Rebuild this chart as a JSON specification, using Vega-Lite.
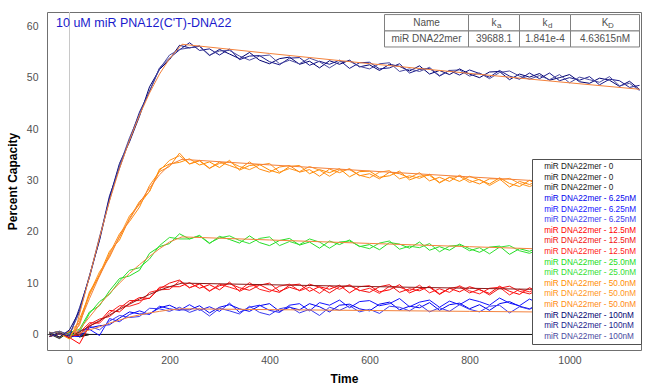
{
"$schema": "https://vega.github.io/schema/vega-lite/v6.json",
"width": 594, "height": 338,
"autosize": "none",
"padding": {"left": 47, "top": 12, "right": 10, "bottom": 41},
"background": "white",
"title": {"text": "10 uM miR PNA12(C'T)-DNA22", "anchor": "start", "frame": "group", "offset": -18, "dx": 9, "fontSize": 12.5, "fontWeight": "normal", "color": "#1a1acc", "font": "Liberation Sans"},
"config": {"view": {"stroke": "#707070", "strokeWidth": 1}, "font": "Liberation Sans",
  "axisX": {"labelFontSize": 10.5, "labelColor": "#505050", "labelFont": "Liberation Sans", "ticks": false, "domain": false, "grid": false, "labelPadding": 5, "titleFont": "Liberation Sans", "titleFontSize": 12, "titleFontWeight": "bold", "titleColor": "#000000", "titlePadding": 8},
  "axisY": {"labelFontSize": 10.5, "labelColor": "#505050", "labelFont": "Liberation Sans", "ticks": false, "domain": false, "grid": false, "labelPadding": 9, "titleFont": "Liberation Sans", "titleFontSize": 12, "titleFontWeight": "bold", "titleColor": "#000000", "titlePadding": 7}
},
"datasets": {
"tr": [
{"k":"A","t":-40,"v":0.5},{"k":"A","t":-20,"v":-0.6},{"k":"A","t":0,"v":0.4},{"k":"A","t":20,"v":-0.3},{"k":"A","t":40,"v":0},{"k":"A","t":940,"v":0},
{"k":"B","t":-40,"v":-0.3},{"k":"B","t":-20,"v":0.4},{"k":"B","t":0,"v":-0.7},{"k":"B","t":20,"v":0.3},{"k":"B","t":40,"v":0},{"k":"B","t":940,"v":0},
{"k":"C","t":-40,"v":0.1},{"k":"C","t":-20,"v":-0.8},{"k":"C","t":0,"v":0.6},{"k":"C","t":20,"v":-0.5},{"k":"C","t":40,"v":0},{"k":"C","t":940,"v":0},
{"k":"D","t":-40,"v":0.2},{"k":"D","t":-20,"v":0.6},{"k":"D","t":0,"v":-0.3},{"k":"D","t":20,"v":-0.4},{"k":"D","t":40,"v":1.3},{"k":"D","t":60,"v":1.7},{"k":"D","t":80,"v":1.9},{"k":"D","t":100,"v":3.2},{"k":"D","t":120,"v":4.4},{"k":"D","t":140,"v":4.0},{"k":"D","t":160,"v":4.0},{"k":"D","t":180,"v":5.2},{"k":"D","t":200,"v":5.7},{"k":"D","t":220,"v":4.8},{"k":"D","t":240,"v":4.8},{"k":"D","t":260,"v":5.6},{"k":"D","t":280,"v":4.2},{"k":"D","t":300,"v":5.3},{"k":"D","t":320,"v":5.8},{"k":"D","t":340,"v":5.0},{"k":"D","t":360,"v":4.5},{"k":"D","t":380,"v":5.6},{"k":"D","t":400,"v":6.0},{"k":"D","t":420,"v":4.5},{"k":"D","t":440,"v":5.3},{"k":"D","t":460,"v":4.8},{"k":"D","t":480,"v":6.0},{"k":"D","t":500,"v":5.4},{"k":"D","t":520,"v":4.4},{"k":"D","t":540,"v":5.7},{"k":"D","t":560,"v":5.9},{"k":"D","t":580,"v":5.0},{"k":"D","t":600,"v":4.6},{"k":"D","t":620,"v":5.9},{"k":"D","t":640,"v":6.3},{"k":"D","t":660,"v":4.8},{"k":"D","t":680,"v":5.5},{"k":"D","t":700,"v":5.2},{"k":"D","t":720,"v":6.2},{"k":"D","t":740,"v":4.7},{"k":"D","t":760,"v":5.8},{"k":"D","t":780,"v":6.1},{"k":"D","t":800,"v":5.0},{"k":"D","t":820,"v":5.8},{"k":"D","t":840,"v":4.7},{"k":"D","t":860,"v":6.0},{"k":"D","t":880,"v":6.4},{"k":"D","t":900,"v":5.5},{"k":"D","t":920,"v":5.0},{"k":"D","t":940,"v":5.9},
{"k":"E","t":-40,"v":-0.4},{"k":"E","t":-20,"v":0.2},{"k":"E","t":0,"v":-0.6},{"k":"E","t":20,"v":0.8},{"k":"E","t":40,"v":1.0},{"k":"E","t":60,"v":-0.2},{"k":"E","t":80,"v":3.1},{"k":"E","t":100,"v":2.5},{"k":"E","t":120,"v":3.9},{"k":"E","t":140,"v":4.6},{"k":"E","t":160,"v":3.9},{"k":"E","t":180,"v":5.5},{"k":"E","t":200,"v":5.0},{"k":"E","t":220,"v":4.7},{"k":"E","t":240,"v":5.8},{"k":"E","t":260,"v":4.7},{"k":"E","t":280,"v":5.4},{"k":"E","t":300,"v":4.5},{"k":"E","t":320,"v":6.1},{"k":"E","t":340,"v":4.3},{"k":"E","t":360,"v":5.3},{"k":"E","t":380,"v":5.7},{"k":"E","t":400,"v":4.7},{"k":"E","t":420,"v":4.3},{"k":"E","t":440,"v":5.7},{"k":"E","t":460,"v":6.0},{"k":"E","t":480,"v":4.6},{"k":"E","t":500,"v":6.2},{"k":"E","t":520,"v":5.7},{"k":"E","t":540,"v":6.7},{"k":"E","t":560,"v":5.2},{"k":"E","t":580,"v":6.4},{"k":"E","t":600,"v":6.6},{"k":"E","t":620,"v":5.6},{"k":"E","t":640,"v":6.0},{"k":"E","t":660,"v":7.0},{"k":"E","t":680,"v":5.4},{"k":"E","t":700,"v":6.3},{"k":"E","t":720,"v":6.7},{"k":"E","t":740,"v":5.3},{"k":"E","t":760,"v":6.5},{"k":"E","t":780,"v":5.8},{"k":"E","t":800,"v":6.9},{"k":"E","t":820,"v":6.4},{"k":"E","t":840,"v":5.7},{"k":"E","t":860,"v":7.1},{"k":"E","t":880,"v":6.1},{"k":"E","t":900,"v":5.6},{"k":"E","t":920,"v":6.9},{"k":"E","t":940,"v":6.0},
{"k":"F","t":-40,"v":0.3},{"k":"F","t":-20,"v":-0.5},{"k":"F","t":0,"v":0.6},{"k":"F","t":20,"v":0.1},{"k":"F","t":40,"v":1.6},{"k":"F","t":60,"v":0.9},{"k":"F","t":80,"v":2.6},{"k":"F","t":100,"v":3.7},{"k":"F","t":120,"v":3.3},{"k":"F","t":140,"v":3.5},{"k":"F","t":160,"v":5.1},{"k":"F","t":180,"v":5.0},{"k":"F","t":200,"v":4.5},{"k":"F","t":220,"v":5.3},{"k":"F","t":240,"v":4.3},{"k":"F","t":260,"v":5.0},{"k":"F","t":280,"v":3.6},{"k":"F","t":300,"v":5.1},{"k":"F","t":320,"v":4.6},{"k":"F","t":340,"v":4.0},{"k":"F","t":360,"v":5.5},{"k":"F","t":380,"v":4.3},{"k":"F","t":400,"v":3.8},{"k":"F","t":420,"v":5.0},{"k":"F","t":440,"v":5.4},{"k":"F","t":460,"v":4.2},{"k":"F","t":480,"v":4.9},{"k":"F","t":500,"v":3.7},{"k":"F","t":520,"v":5.3},{"k":"F","t":540,"v":4.7},{"k":"F","t":560,"v":5.6},{"k":"F","t":580,"v":4.4},{"k":"F","t":600,"v":4.9},{"k":"F","t":620,"v":4.1},{"k":"F","t":640,"v":5.5},{"k":"F","t":660,"v":5.3},{"k":"F","t":680,"v":4.6},{"k":"F","t":700,"v":5.8},{"k":"F","t":720,"v":4.4},{"k":"F","t":740,"v":5.2},{"k":"F","t":760,"v":4.5},{"k":"F","t":780,"v":5.8},{"k":"F","t":800,"v":4.9},{"k":"F","t":820,"v":4.4},{"k":"F","t":840,"v":5.5},{"k":"F","t":860,"v":5.7},{"k":"F","t":880,"v":4.2},{"k":"F","t":900,"v":5.4},{"k":"F","t":920,"v":4.9},{"k":"F","t":940,"v":5.8},
{"k":"G","t":-40,"v":-0.4},{"k":"G","t":-20,"v":0.2},{"k":"G","t":0,"v":-0.6},{"k":"G","t":20,"v":-1.8},{"k":"G","t":40,"v":1.7},{"k":"G","t":60,"v":2.5},{"k":"G","t":80,"v":4.7},{"k":"G","t":100,"v":4.4},{"k":"G","t":120,"v":6.1},{"k":"G","t":140,"v":7.2},{"k":"G","t":160,"v":7.0},{"k":"G","t":180,"v":9.2},{"k":"G","t":200,"v":9.3},{"k":"G","t":220,"v":9.3},{"k":"G","t":240,"v":10.1},{"k":"G","t":260,"v":9.0},{"k":"G","t":280,"v":9.7},{"k":"G","t":300,"v":8.7},{"k":"G","t":320,"v":10.2},{"k":"G","t":340,"v":8.4},{"k":"G","t":360,"v":9.4},{"k":"G","t":380,"v":9.7},{"k":"G","t":400,"v":8.7},{"k":"G","t":420,"v":8.2},{"k":"G","t":440,"v":9.6},{"k":"G","t":460,"v":9.8},{"k":"G","t":480,"v":8.4},{"k":"G","t":500,"v":9.3},{"k":"G","t":520,"v":8.8},{"k":"G","t":540,"v":9.6},{"k":"G","t":560,"v":8.1},{"k":"G","t":580,"v":9.3},{"k":"G","t":600,"v":9.5},{"k":"G","t":620,"v":8.3},{"k":"G","t":640,"v":8.7},{"k":"G","t":660,"v":9.7},{"k":"G","t":680,"v":8.1},{"k":"G","t":700,"v":8.9},{"k":"G","t":720,"v":9.2},{"k":"G","t":740,"v":7.8},{"k":"G","t":760,"v":9.0},{"k":"G","t":780,"v":8.3},{"k":"G","t":800,"v":9.3},{"k":"G","t":820,"v":8.7},{"k":"G","t":840,"v":8.0},{"k":"G","t":860,"v":9.4},{"k":"G","t":880,"v":8.4},{"k":"G","t":900,"v":7.8},{"k":"G","t":920,"v":9.1},{"k":"G","t":940,"v":8.2},
{"k":"H","t":-40,"v":0.2},{"k":"H","t":-20,"v":0.6},{"k":"H","t":0,"v":-0.3},{"k":"H","t":20,"v":-0.1},{"k":"H","t":40,"v":2.0},{"k":"H","t":60,"v":3.0},{"k":"H","t":80,"v":3.5},{"k":"H","t":100,"v":5.1},{"k":"H","t":120,"v":6.6},{"k":"H","t":140,"v":6.6},{"k":"H","t":160,"v":7.1},{"k":"H","t":180,"v":8.9},{"k":"H","t":200,"v":10.0},{"k":"H","t":220,"v":10.6},{"k":"H","t":240,"v":9.1},{"k":"H","t":260,"v":9.9},{"k":"H","t":280,"v":8.5},{"k":"H","t":300,"v":9.5},{"k":"H","t":320,"v":9.9},{"k":"H","t":340,"v":9.1},{"k":"H","t":360,"v":8.6},{"k":"H","t":380,"v":9.6},{"k":"H","t":400,"v":10.0},{"k":"H","t":420,"v":8.4},{"k":"H","t":440,"v":9.2},{"k":"H","t":460,"v":8.6},{"k":"H","t":480,"v":9.8},{"k":"H","t":500,"v":9.2},{"k":"H","t":520,"v":8.1},{"k":"H","t":540,"v":9.3},{"k":"H","t":560,"v":9.5},{"k":"H","t":580,"v":8.6},{"k":"H","t":600,"v":8.2},{"k":"H","t":620,"v":9.3},{"k":"H","t":640,"v":9.7},{"k":"H","t":660,"v":8.2},{"k":"H","t":680,"v":8.9},{"k":"H","t":700,"v":8.5},{"k":"H","t":720,"v":9.4},{"k":"H","t":740,"v":7.9},{"k":"H","t":760,"v":9.0},{"k":"H","t":780,"v":9.3},{"k":"H","t":800,"v":8.1},{"k":"H","t":820,"v":8.8},{"k":"H","t":840,"v":7.7},{"k":"H","t":860,"v":9.0},{"k":"H","t":880,"v":9.4},{"k":"H","t":900,"v":8.4},{"k":"H","t":920,"v":7.9},{"k":"H","t":940,"v":8.8},
{"k":"I","t":-40,"v":0.3},{"k":"I","t":-20,"v":-0.5},{"k":"I","t":0,"v":0.6},{"k":"I","t":20,"v":0.4},{"k":"I","t":40,"v":2.3},{"k":"I","t":60,"v":2.2},{"k":"I","t":80,"v":4.2},{"k":"I","t":100,"v":5.6},{"k":"I","t":120,"v":5.5},{"k":"I","t":140,"v":6.1},{"k":"I","t":160,"v":8.2},{"k":"I","t":180,"v":8.7},{"k":"I","t":200,"v":8.8},{"k":"I","t":220,"v":10.4},{"k":"I","t":240,"v":9.1},{"k":"I","t":260,"v":9.8},{"k":"I","t":280,"v":8.4},{"k":"I","t":300,"v":9.8},{"k":"I","t":320,"v":9.2},{"k":"I","t":340,"v":8.6},{"k":"I","t":360,"v":10.1},{"k":"I","t":380,"v":8.8},{"k":"I","t":400,"v":8.3},{"k":"I","t":420,"v":9.4},{"k":"I","t":440,"v":9.8},{"k":"I","t":460,"v":8.5},{"k":"I","t":480,"v":9.2},{"k":"I","t":500,"v":8.0},{"k":"I","t":520,"v":9.5},{"k":"I","t":540,"v":8.8},{"k":"I","t":560,"v":9.7},{"k":"I","t":580,"v":8.5},{"k":"I","t":600,"v":9.0},{"k":"I","t":620,"v":8.0},{"k":"I","t":640,"v":9.4},{"k":"I","t":660,"v":9.2},{"k":"I","t":680,"v":8.5},{"k":"I","t":700,"v":9.6},{"k":"I","t":720,"v":8.1},{"k":"I","t":740,"v":8.9},{"k":"I","t":760,"v":8.2},{"k":"I","t":780,"v":9.5},{"k":"I","t":800,"v":8.5},{"k":"I","t":820,"v":7.9},{"k":"I","t":840,"v":9.0},{"k":"I","t":860,"v":9.2},{"k":"I","t":880,"v":7.7},{"k":"I","t":900,"v":8.8},{"k":"I","t":920,"v":8.3},{"k":"I","t":940,"v":9.2},
{"k":"J","t":-40,"v":0.3},{"k":"J","t":-20,"v":-0.5},{"k":"J","t":0,"v":0.4},{"k":"J","t":20,"v":1.0},{"k":"J","t":40,"v":4.4},{"k":"J","t":60,"v":5.6},{"k":"J","t":80,"v":8.5},{"k":"J","t":100,"v":10.9},{"k":"J","t":120,"v":11.4},{"k":"J","t":140,"v":12.5},{"k":"J","t":160,"v":15.8},{"k":"J","t":180,"v":17.1},{"k":"J","t":200,"v":17.7},{"k":"J","t":220,"v":19.6},{"k":"J","t":240,"v":18.6},{"k":"J","t":260,"v":19.2},{"k":"J","t":280,"v":17.7},{"k":"J","t":300,"v":19.1},{"k":"J","t":320,"v":18.5},{"k":"J","t":340,"v":17.8},{"k":"J","t":360,"v":19.2},{"k":"J","t":380,"v":17.9},{"k":"J","t":400,"v":17.3},{"k":"J","t":420,"v":18.3},{"k":"J","t":440,"v":18.7},{"k":"J","t":460,"v":17.4},{"k":"J","t":480,"v":18.0},{"k":"J","t":500,"v":16.8},{"k":"J","t":520,"v":18.2},{"k":"J","t":540,"v":17.5},{"k":"J","t":560,"v":18.4},{"k":"J","t":580,"v":17.1},{"k":"J","t":600,"v":17.5},{"k":"J","t":620,"v":16.5},{"k":"J","t":640,"v":17.9},{"k":"J","t":660,"v":17.6},{"k":"J","t":680,"v":16.8},{"k":"J","t":700,"v":18.0},{"k":"J","t":720,"v":16.4},{"k":"J","t":740,"v":17.1},{"k":"J","t":760,"v":16.4},{"k":"J","t":780,"v":17.6},{"k":"J","t":800,"v":16.7},{"k":"J","t":820,"v":16.0},{"k":"J","t":840,"v":17.0},{"k":"J","t":860,"v":17.2},{"k":"J","t":880,"v":15.6},{"k":"J","t":900,"v":16.7},{"k":"J","t":920,"v":16.2},{"k":"J","t":940,"v":17.0},
{"k":"K","t":-40,"v":0.2},{"k":"K","t":-20,"v":0.6},{"k":"K","t":0,"v":-0.3},{"k":"K","t":20,"v":0.5},{"k":"K","t":40,"v":4.1},{"k":"K","t":60,"v":6.4},{"k":"K","t":80,"v":7.8},{"k":"K","t":100,"v":10.4},{"k":"K","t":120,"v":12.5},{"k":"K","t":140,"v":13.0},{"k":"K","t":160,"v":14.7},{"k":"K","t":180,"v":17.3},{"k":"K","t":200,"v":18.9},{"k":"K","t":220,"v":18.6},{"k":"K","t":240,"v":18.6},{"k":"K","t":260,"v":19.3},{"k":"K","t":280,"v":17.8},{"k":"K","t":300,"v":18.8},{"k":"K","t":320,"v":19.2},{"k":"K","t":340,"v":18.3},{"k":"K","t":360,"v":17.7},{"k":"K","t":380,"v":18.7},{"k":"K","t":400,"v":19.0},{"k":"K","t":420,"v":17.3},{"k":"K","t":440,"v":18.1},{"k":"K","t":460,"v":17.5},{"k":"K","t":480,"v":18.6},{"k":"K","t":500,"v":18.0},{"k":"K","t":520,"v":16.8},{"k":"K","t":540,"v":18.0},{"k":"K","t":560,"v":18.2},{"k":"K","t":580,"v":17.2},{"k":"K","t":600,"v":16.7},{"k":"K","t":620,"v":17.8},{"k":"K","t":640,"v":18.2},{"k":"K","t":660,"v":16.6},{"k":"K","t":680,"v":17.2},{"k":"K","t":700,"v":16.9},{"k":"K","t":720,"v":17.7},{"k":"K","t":740,"v":16.1},{"k":"K","t":760,"v":17.2},{"k":"K","t":780,"v":17.4},{"k":"K","t":800,"v":16.3},{"k":"K","t":820,"v":16.9},{"k":"K","t":840,"v":15.7},{"k":"K","t":860,"v":17.0},{"k":"K","t":880,"v":17.3},{"k":"K","t":900,"v":16.3},{"k":"K","t":920,"v":15.8},{"k":"K","t":940,"v":16.6},
{"k":"L","t":-40,"v":-0.4},{"k":"L","t":-20,"v":0.2},{"k":"L","t":0,"v":-0.9},{"k":"L","t":20,"v":3.0},{"k":"L","t":40,"v":7.7},{"k":"L","t":60,"v":11.7},{"k":"L","t":80,"v":16.2},{"k":"L","t":100,"v":18.4},{"k":"L","t":120,"v":22.6},{"k":"L","t":140,"v":25.9},{"k":"L","t":160,"v":27.8},{"k":"L","t":180,"v":32.2},{"k":"L","t":200,"v":33.2},{"k":"L","t":220,"v":33.5},{"k":"L","t":240,"v":34.2},{"k":"L","t":260,"v":33.0},{"k":"L","t":280,"v":33.6},{"k":"L","t":300,"v":32.5},{"k":"L","t":320,"v":33.9},{"k":"L","t":340,"v":32.0},{"k":"L","t":360,"v":32.9},{"k":"L","t":380,"v":33.1},{"k":"L","t":400,"v":32.0},{"k":"L","t":420,"v":31.4},{"k":"L","t":440,"v":32.7},{"k":"L","t":460,"v":32.9},{"k":"L","t":480,"v":31.3},{"k":"L","t":500,"v":32.1},{"k":"L","t":520,"v":31.5},{"k":"L","t":540,"v":32.3},{"k":"L","t":560,"v":30.7},{"k":"L","t":580,"v":31.7},{"k":"L","t":600,"v":31.8},{"k":"L","t":620,"v":30.6},{"k":"L","t":640,"v":30.9},{"k":"L","t":660,"v":31.8},{"k":"L","t":680,"v":30.1},{"k":"L","t":700,"v":30.8},{"k":"L","t":720,"v":31.0},{"k":"L","t":740,"v":29.5},{"k":"L","t":760,"v":30.6},{"k":"L","t":780,"v":29.8},{"k":"L","t":800,"v":30.8},{"k":"L","t":820,"v":30.1},{"k":"L","t":840,"v":29.3},{"k":"L","t":860,"v":30.5},{"k":"L","t":880,"v":29.4},{"k":"L","t":900,"v":28.8},{"k":"L","t":920,"v":30.0},{"k":"L","t":940,"v":29.0},
{"k":"M","t":-40,"v":0.2},{"k":"M","t":-20,"v":0.6},{"k":"M","t":0,"v":-0.3},{"k":"M","t":20,"v":1.8},{"k":"M","t":40,"v":8.0},{"k":"M","t":60,"v":12.2},{"k":"M","t":80,"v":15.0},{"k":"M","t":100,"v":19.1},{"k":"M","t":120,"v":23.1},{"k":"M","t":140,"v":25.3},{"k":"M","t":160,"v":27.9},{"k":"M","t":180,"v":31.9},{"k":"M","t":200,"v":33.9},{"k":"M","t":220,"v":34.8},{"k":"M","t":240,"v":33.2},{"k":"M","t":260,"v":33.9},{"k":"M","t":280,"v":32.4},{"k":"M","t":300,"v":33.3},{"k":"M","t":320,"v":33.6},{"k":"M","t":340,"v":32.7},{"k":"M","t":360,"v":32.1},{"k":"M","t":380,"v":33.0},{"k":"M","t":400,"v":33.3},{"k":"M","t":420,"v":31.6},{"k":"M","t":440,"v":32.3},{"k":"M","t":460,"v":31.7},{"k":"M","t":480,"v":32.7},{"k":"M","t":500,"v":32.0},{"k":"M","t":520,"v":30.8},{"k":"M","t":540,"v":32.0},{"k":"M","t":560,"v":32.1},{"k":"M","t":580,"v":31.0},{"k":"M","t":600,"v":30.5},{"k":"M","t":620,"v":31.6},{"k":"M","t":640,"v":31.9},{"k":"M","t":660,"v":30.3},{"k":"M","t":680,"v":30.9},{"k":"M","t":700,"v":30.4},{"k":"M","t":720,"v":31.2},{"k":"M","t":740,"v":29.6},{"k":"M","t":760,"v":30.6},{"k":"M","t":780,"v":30.8},{"k":"M","t":800,"v":29.6},{"k":"M","t":820,"v":30.2},{"k":"M","t":840,"v":29.0},{"k":"M","t":860,"v":30.1},{"k":"M","t":880,"v":30.4},{"k":"M","t":900,"v":29.4},{"k":"M","t":920,"v":28.8},{"k":"M","t":940,"v":29.6},
{"k":"N","t":-40,"v":0.3},{"k":"N","t":-20,"v":-0.5},{"k":"N","t":0,"v":0.6},{"k":"N","t":20,"v":2.3},{"k":"N","t":40,"v":8.3},{"k":"N","t":60,"v":11.4},{"k":"N","t":80,"v":15.7},{"k":"N","t":100,"v":19.6},{"k":"N","t":120,"v":22.0},{"k":"N","t":140,"v":24.8},{"k":"N","t":160,"v":29.0},{"k":"N","t":180,"v":31.7},{"k":"N","t":200,"v":32.7},{"k":"N","t":220,"v":35.3},{"k":"N","t":240,"v":33.2},{"k":"N","t":260,"v":33.8},{"k":"N","t":280,"v":32.3},{"k":"N","t":300,"v":33.6},{"k":"N","t":320,"v":32.9},{"k":"N","t":340,"v":32.2},{"k":"N","t":360,"v":33.6},{"k":"N","t":380,"v":32.2},{"k":"N","t":400,"v":31.6},{"k":"N","t":420,"v":32.6},{"k":"N","t":440,"v":32.9},{"k":"N","t":460,"v":31.6},{"k":"N","t":480,"v":32.1},{"k":"N","t":500,"v":30.8},{"k":"N","t":520,"v":32.2},{"k":"N","t":540,"v":31.5},{"k":"N","t":560,"v":32.3},{"k":"N","t":580,"v":30.9},{"k":"N","t":600,"v":31.3},{"k":"N","t":620,"v":30.3},{"k":"N","t":640,"v":31.6},{"k":"N","t":660,"v":31.3},{"k":"N","t":680,"v":30.5},{"k":"N","t":700,"v":31.5},{"k":"N","t":720,"v":29.9},{"k":"N","t":740,"v":30.6},{"k":"N","t":760,"v":29.8},{"k":"N","t":780,"v":31.0},{"k":"N","t":800,"v":30.0},{"k":"N","t":820,"v":29.3},{"k":"N","t":840,"v":30.3},{"k":"N","t":860,"v":30.3},{"k":"N","t":880,"v":28.7},{"k":"N","t":900,"v":29.8},{"k":"N","t":920,"v":29.2},{"k":"N","t":940,"v":30.0},
{"k":"O","t":-40,"v":0.3},{"k":"O","t":-20,"v":-0.5},{"k":"O","t":0,"v":0.9},{"k":"O","t":20,"v":4.6},{"k":"O","t":40,"v":11.5},{"k":"O","t":60,"v":18.3},{"k":"O","t":80,"v":26.6},{"k":"O","t":100,"v":33.3},{"k":"O","t":120,"v":37.5},{"k":"O","t":140,"v":42.5},{"k":"O","t":160,"v":48.2},{"k":"O","t":180,"v":51.6},{"k":"O","t":200,"v":53.5},{"k":"O","t":220,"v":56.3},{"k":"O","t":240,"v":55.8},{"k":"O","t":260,"v":56.1},{"k":"O","t":280,"v":54.3},{"k":"O","t":300,"v":55.5},{"k":"O","t":320,"v":54.6},{"k":"O","t":340,"v":53.7},{"k":"O","t":360,"v":54.9},{"k":"O","t":380,"v":53.4},{"k":"O","t":400,"v":52.7},{"k":"O","t":420,"v":53.7},{"k":"O","t":440,"v":54.0},{"k":"O","t":460,"v":52.6},{"k":"O","t":480,"v":53.2},{"k":"O","t":500,"v":51.9},{"k":"O","t":520,"v":53.3},{"k":"O","t":540,"v":52.6},{"k":"O","t":560,"v":53.4},{"k":"O","t":580,"v":52.1},{"k":"O","t":600,"v":52.5},{"k":"O","t":620,"v":51.4},{"k":"O","t":640,"v":52.6},{"k":"O","t":660,"v":52.2},{"k":"O","t":680,"v":51.3},{"k":"O","t":700,"v":52.3},{"k":"O","t":720,"v":50.7},{"k":"O","t":740,"v":51.4},{"k":"O","t":760,"v":50.6},{"k":"O","t":780,"v":51.7},{"k":"O","t":800,"v":50.7},{"k":"O","t":820,"v":50.0},{"k":"O","t":840,"v":51.1},{"k":"O","t":860,"v":51.2},{"k":"O","t":880,"v":49.6},{"k":"O","t":900,"v":50.7},{"k":"O","t":920,"v":50.1},{"k":"O","t":940,"v":50.8},{"k":"O","t":960,"v":49.5},{"k":"O","t":980,"v":50.0},{"k":"O","t":1000,"v":50.6},{"k":"O","t":1020,"v":49.2},{"k":"O","t":1040,"v":48.9},{"k":"O","t":1060,"v":49.9},{"k":"O","t":1080,"v":49.5},{"k":"O","t":1100,"v":48.3},{"k":"O","t":1120,"v":49.3},{"k":"O","t":1140,"v":47.7},
{"k":"P","t":-40,"v":-0.4},{"k":"P","t":-20,"v":0.2},{"k":"P","t":0,"v":-0.3},{"k":"P","t":20,"v":5.2},{"k":"P","t":40,"v":11.1},{"k":"P","t":60,"v":18.6},{"k":"P","t":80,"v":27.0},{"k":"P","t":100,"v":32.4},{"k":"P","t":120,"v":37.9},{"k":"P","t":140,"v":43.3},{"k":"P","t":160,"v":47.3},{"k":"P","t":180,"v":51.9},{"k":"P","t":200,"v":53.8},{"k":"P","t":220,"v":55.4},{"k":"P","t":240,"v":56.8},{"k":"P","t":260,"v":55.3},{"k":"P","t":280,"v":55.6},{"k":"P","t":300,"v":54.4},{"k":"P","t":320,"v":55.6},{"k":"P","t":340,"v":53.5},{"k":"P","t":360,"v":54.2},{"k":"P","t":380,"v":54.3},{"k":"P","t":400,"v":53.1},{"k":"P","t":420,"v":52.5},{"k":"P","t":440,"v":53.8},{"k":"P","t":460,"v":53.9},{"k":"P","t":480,"v":52.4},{"k":"P","t":500,"v":53.2},{"k":"P","t":520,"v":52.6},{"k":"P","t":540,"v":53.4},{"k":"P","t":560,"v":51.8},{"k":"P","t":580,"v":52.9},{"k":"P","t":600,"v":53.0},{"k":"P","t":620,"v":51.7},{"k":"P","t":640,"v":51.9},{"k":"P","t":660,"v":52.7},{"k":"P","t":680,"v":50.9},{"k":"P","t":700,"v":51.6},{"k":"P","t":720,"v":51.8},{"k":"P","t":740,"v":50.3},{"k":"P","t":760,"v":51.4},{"k":"P","t":780,"v":50.5},{"k":"P","t":800,"v":51.5},{"k":"P","t":820,"v":50.8},{"k":"P","t":840,"v":50.1},{"k":"P","t":860,"v":51.4},{"k":"P","t":880,"v":50.3},{"k":"P","t":900,"v":49.7},{"k":"P","t":920,"v":50.9},{"k":"P","t":940,"v":49.8},{"k":"P","t":960,"v":50.9},{"k":"P","t":980,"v":49.4},{"k":"P","t":1000,"v":50.0},{"k":"P","t":1020,"v":49.5},{"k":"P","t":1040,"v":50.2},{"k":"P","t":1060,"v":48.6},{"k":"P","t":1080,"v":49.7},{"k":"P","t":1100,"v":49.4},{"k":"P","t":1120,"v":48.1},{"k":"P","t":1140,"v":48.5},
{"k":"Q","t":-40,"v":0.2},{"k":"Q","t":-20,"v":0.6},{"k":"Q","t":0,"v":0.0},{"k":"Q","t":20,"v":4.3},{"k":"Q","t":40,"v":11.3},{"k":"Q","t":60,"v":19.0},{"k":"Q","t":80,"v":26.1},{"k":"Q","t":100,"v":32.9},{"k":"Q","t":120,"v":38.3},{"k":"Q","t":140,"v":42.8},{"k":"Q","t":160,"v":47.4},{"k":"Q","t":180,"v":51.7},{"k":"Q","t":200,"v":54.4},{"k":"Q","t":220,"v":55.5},{"k":"Q","t":240,"v":55.8},{"k":"Q","t":260,"v":56.2},{"k":"Q","t":280,"v":54.4},{"k":"Q","t":300,"v":55.2},{"k":"Q","t":320,"v":55.3},{"k":"Q","t":340,"v":54.2},{"k":"Q","t":360,"v":53.4},{"k":"Q","t":380,"v":54.2},{"k":"Q","t":400,"v":54.4},{"k":"Q","t":420,"v":52.7},{"k":"Q","t":440,"v":53.4},{"k":"Q","t":460,"v":52.7},{"k":"Q","t":480,"v":53.8},{"k":"Q","t":500,"v":53.1},{"k":"Q","t":520,"v":51.9},{"k":"Q","t":540,"v":53.1},{"k":"Q","t":560,"v":53.2},{"k":"Q","t":580,"v":52.2},{"k":"Q","t":600,"v":51.7},{"k":"Q","t":620,"v":52.7},{"k":"Q","t":640,"v":52.9},{"k":"Q","t":660,"v":51.2},{"k":"Q","t":680,"v":51.7},{"k":"Q","t":700,"v":51.2},{"k":"Q","t":720,"v":52.0},{"k":"Q","t":740,"v":50.4},{"k":"Q","t":760,"v":51.4},{"k":"Q","t":780,"v":51.5},{"k":"Q","t":800,"v":50.3},{"k":"Q","t":820,"v":50.9},{"k":"Q","t":840,"v":49.8},{"k":"Q","t":860,"v":51.0},{"k":"Q","t":880,"v":51.3},{"k":"Q","t":900,"v":50.3},{"k":"Q","t":920,"v":49.7},{"k":"Q","t":940,"v":50.4},{"k":"Q","t":960,"v":49.6},{"k":"Q","t":980,"v":50.6},{"k":"Q","t":1000,"v":49.0},{"k":"Q","t":1020,"v":50.1},{"k":"Q","t":1040,"v":49.6},{"k":"Q","t":1060,"v":49.1},{"k":"Q","t":1080,"v":50.2},{"k":"Q","t":1100,"v":48.4},{"k":"Q","t":1120,"v":48.9},{"k":"Q","t":1140,"v":47.5}
],
"fit": [
{"k":"f100","t":10,"v":0},{"k":"f100","t":20,"v":4},{"k":"f100","t":40,"v":11.3},{"k":"f100","t":60,"v":18.8},{"k":"f100","t":80,"v":26},{"k":"f100","t":100,"v":32.3},{"k":"f100","t":120,"v":37.8},{"k":"f100","t":140,"v":42.7},{"k":"f100","t":160,"v":47},{"k":"f100","t":180,"v":50.7},{"k":"f100","t":200,"v":53.7},{"k":"f100","t":225,"v":56.5},{"k":"f100","t":400,"v":54.71},{"k":"f100","t":600,"v":52.73},{"k":"f100","t":800,"v":50.83},{"k":"f100","t":1000,"v":48.99},{"k":"f100","t":1140,"v":47.74},
{"k":"f50","t":10,"v":0},{"k":"f50","t":20,"v":2.3},{"k":"f50","t":40,"v":7},{"k":"f50","t":60,"v":11.4},{"k":"f50","t":80,"v":15.3},{"k":"f50","t":100,"v":19},{"k":"f50","t":120,"v":22.4},{"k":"f50","t":140,"v":25.6},{"k":"f50","t":160,"v":28.5},{"k":"f50","t":180,"v":31.1},{"k":"f50","t":200,"v":33.0},{"k":"f50","t":225,"v":34.1},{"k":"f50","t":400,"v":33.02},{"k":"f50","t":600,"v":31.83},{"k":"f50","t":800,"v":30.68},{"k":"f50","t":940,"v":29.89},
{"k":"f25","t":10,"v":0},{"k":"f25","t":20,"v":1},{"k":"f25","t":40,"v":3.4},{"k":"f25","t":60,"v":5.8},{"k":"f25","t":80,"v":8},{"k":"f25","t":100,"v":10},{"k":"f25","t":120,"v":11.9},{"k":"f25","t":140,"v":13.6},{"k":"f25","t":160,"v":15.2},{"k":"f25","t":180,"v":16.7},{"k":"f25","t":200,"v":18},{"k":"f25","t":225,"v":19},{"k":"f25","t":400,"v":18.4},{"k":"f25","t":600,"v":17.73},{"k":"f25","t":800,"v":17.09},{"k":"f25","t":940,"v":16.66},
{"k":"f12","t":10,"v":0},{"k":"f12","t":20,"v":0.5},{"k":"f12","t":40,"v":1.6},{"k":"f12","t":60,"v":2.7},{"k":"f12","t":80,"v":3.8},{"k":"f12","t":100,"v":4.9},{"k":"f12","t":120,"v":5.9},{"k":"f12","t":140,"v":6.9},{"k":"f12","t":160,"v":7.8},{"k":"f12","t":180,"v":8.6},{"k":"f12","t":200,"v":9.3},{"k":"f12","t":225,"v":10},{"k":"f12","t":400,"v":9.68},{"k":"f12","t":600,"v":9.33},{"k":"f12","t":800,"v":9.0},{"k":"f12","t":940,"v":8.77},
{"k":"f6","t":10,"v":0},{"k":"f6","t":20,"v":0.3},{"k":"f6","t":40,"v":0.9},{"k":"f6","t":60,"v":1.5},{"k":"f6","t":80,"v":2.2},{"k":"f6","t":100,"v":2.8},{"k":"f6","t":120,"v":3.4},{"k":"f6","t":140,"v":3.8},{"k":"f6","t":160,"v":4.2},{"k":"f6","t":180,"v":4.5},{"k":"f6","t":200,"v":4.8},{"k":"f6","t":225,"v":5.0},{"k":"f6","t":400,"v":4.84},{"k":"f6","t":600,"v":4.67},{"k":"f6","t":800,"v":4.5},{"k":"f6","t":940,"v":4.38}
],
"tbl": [
{"txt":"Name","sub":"","x0":630,"x1":798,"xm":714,"y0":59.09,"y1":62.28,"ym":60.69},
{"txt":"k","sub":"a","x0":798,"x1":900,"xm":849,"y0":59.09,"y1":62.28,"ym":60.69},
{"txt":"k","sub":"d","x0":900,"x1":1002,"xm":951,"y0":59.09,"y1":62.28,"ym":60.69},
{"txt":"K","sub":"D","x0":1002,"x1":1140,"xm":1071,"y0":59.09,"y1":62.28,"ym":60.69},
{"txt":"miR DNA22mer","sub":"","x0":630,"x1":798,"xm":714,"y0":55.97,"y1":59.09,"ym":57.53},
{"txt":"39688.1","sub":"","x0":798,"x1":900,"xm":849,"y0":55.97,"y1":59.09,"ym":57.53},
{"txt":"1.841e-4","sub":"","x0":900,"x1":1002,"xm":951,"y0":55.97,"y1":59.09,"ym":57.53},
{"txt":"4.63615nM","sub":"","x0":1002,"x1":1140,"xm":1071,"y0":55.97,"y1":59.09,"ym":57.53}
]
},
"layer": [
{"data": {"values": [{"t": 0}]}, "mark": {"type": "rule", "color": "#c8c8c8", "strokeWidth": 1},
 "encoding": {"x": {"field": "t", "type": "quantitative", "title": "Time", "scale": {"domain": [-45, 1143], "nice": false, "zero": false}, "axis": {"values": [0, 200, 400, 600, 800, 1000], "format": "d"}}}},
{"data": {"values": [{"v": 0}]}, "mark": {"type": "rule", "color": "#505050", "strokeWidth": 1},
 "encoding": {"y": {"field": "v", "type": "quantitative", "title": "Percent Capacity", "scale": {"domain": [-3.02, 62.78], "nice": false, "zero": false}, "axis": {"values": [0, 10, 20, 30, 40, 50, 60]}}}},
{"data": {"name": "tr"}, "mark": {"type": "line", "strokeWidth": 1, "clip": true},
 "encoding": {
  "x": {"field": "t", "type": "quantitative", "title": "Time", "scale": {"domain": [-45, 1143], "nice": false, "zero": false}},
  "y": {"field": "v", "type": "quantitative", "title": "Percent Capacity", "scale": {"domain": [-3.02, 62.78], "nice": false, "zero": false}},
  "color": {"field": "k", "type": "nominal",
   "scale": {"domain": ["A","B","C","D","E","F","G","H","I","J","K","L","M","N","O","P","Q"],
             "range": ["#1a1a1a","#1a1a1a","#1a1a1a","#0000ee","#1212ff","#3a3af0","#ff0000","#f01010","#ff2020","#22dd22","#33e033","#ff8c00","#ff9520","#ff8a10","#000070","#1a1a8c","#4a4aa0"]},
   "legend": {"title": null, "orient": "none", "legendX": 485, "legendY": 147, "fillColor": "white", "strokeColor": "#505050", "padding": 4,
     "labelFont": "Liberation Sans", "labelFontSize": 8.2, "symbolSize": 0, "symbolStrokeWidth": 0, "symbolOpacity": 0, "labelOffset": 0, "rowPadding": 1.6,
     "labelExpr": "indexof('ABC',datum.label)>=0?'miR DNA22mer - 0':indexof('DEF',datum.label)>=0?'miR DNA22mer - 6.25nM':indexof('GHI',datum.label)>=0?'miR DNA22mer - 12.5nM':indexof('JK',datum.label)>=0?'miR DNA22mer - 25.0nM':indexof('LMN',datum.label)>=0?'miR DNA22mer - 50.0nM':'miR DNA22mer - 100nM'",
     "encode": {"labels": {"update": {"fill": {"scale": "color", "field": "value"}}}}}}
 }},
{"data": {"name": "fit"}, "transform": [{"filter": {"field": "k", "oneOf": ["f100","f50","f25","f6"]}}],
 "mark": {"type": "line", "strokeWidth": 1, "color": "#f4823c", "clip": true},
 "encoding": {
  "x": {"field": "t", "type": "quantitative", "title": "Time", "scale": {"domain": [-45, 1143], "nice": false, "zero": false}},
  "y": {"field": "v", "type": "quantitative", "title": "Percent Capacity", "scale": {"domain": [-3.02, 62.78], "nice": false, "zero": false}},
  "detail": {"field": "k", "type": "nominal"}}},
{"data": {"name": "fit"}, "transform": [{"filter": {"field": "k", "equal": "f12"}}],
 "mark": {"type": "line", "strokeWidth": 1, "color": "#8b1a1a", "clip": true},
 "encoding": {
  "x": {"field": "t", "type": "quantitative", "title": "Time", "scale": {"domain": [-45, 1143], "nice": false, "zero": false}},
  "y": {"field": "v", "type": "quantitative", "title": "Percent Capacity", "scale": {"domain": [-3.02, 62.78], "nice": false, "zero": false}}}},
{"data": {"name": "tbl"}, "mark": {"type": "rect", "fill": "white", "stroke": "#808080", "strokeWidth": 1},
 "encoding": {
  "x": {"field": "x0", "type": "quantitative", "title": "Time", "scale": {"domain": [-45, 1143], "nice": false, "zero": false}},
  "x2": {"field": "x1"},
  "y": {"field": "y0", "type": "quantitative", "title": "Percent Capacity", "scale": {"domain": [-3.02, 62.78], "nice": false, "zero": false}},
  "y2": {"field": "y1"}}},
{"data": {"name": "tbl"}, "mark": {"type": "text", "font": "Liberation Sans", "fontSize": 10, "color": "#505050", "align": "center", "baseline": "middle"},
 "encoding": {
  "x": {"field": "xm", "type": "quantitative", "title": "Time", "scale": {"domain": [-45, 1143], "nice": false, "zero": false}},
  "y": {"field": "ym", "type": "quantitative", "title": "Percent Capacity", "scale": {"domain": [-3.02, 62.78], "nice": false, "zero": false}},
  "text": {"field": "txt"}}},
{"data": {"name": "tbl"}, "transform": [{"filter": {"field": "sub", "oneOf": ["a","d","D"]}}],
 "mark": {"type": "text", "font": "Liberation Sans", "fontSize": 8, "color": "#505050", "align": "left", "baseline": "middle", "dx": 3, "dy": 3},
 "encoding": {
  "x": {"field": "xm", "type": "quantitative", "title": "Time", "scale": {"domain": [-45, 1143], "nice": false, "zero": false}},
  "y": {"field": "ym", "type": "quantitative", "title": "Percent Capacity", "scale": {"domain": [-3.02, 62.78], "nice": false, "zero": false}},
  "text": {"field": "sub"}}}
]
}
